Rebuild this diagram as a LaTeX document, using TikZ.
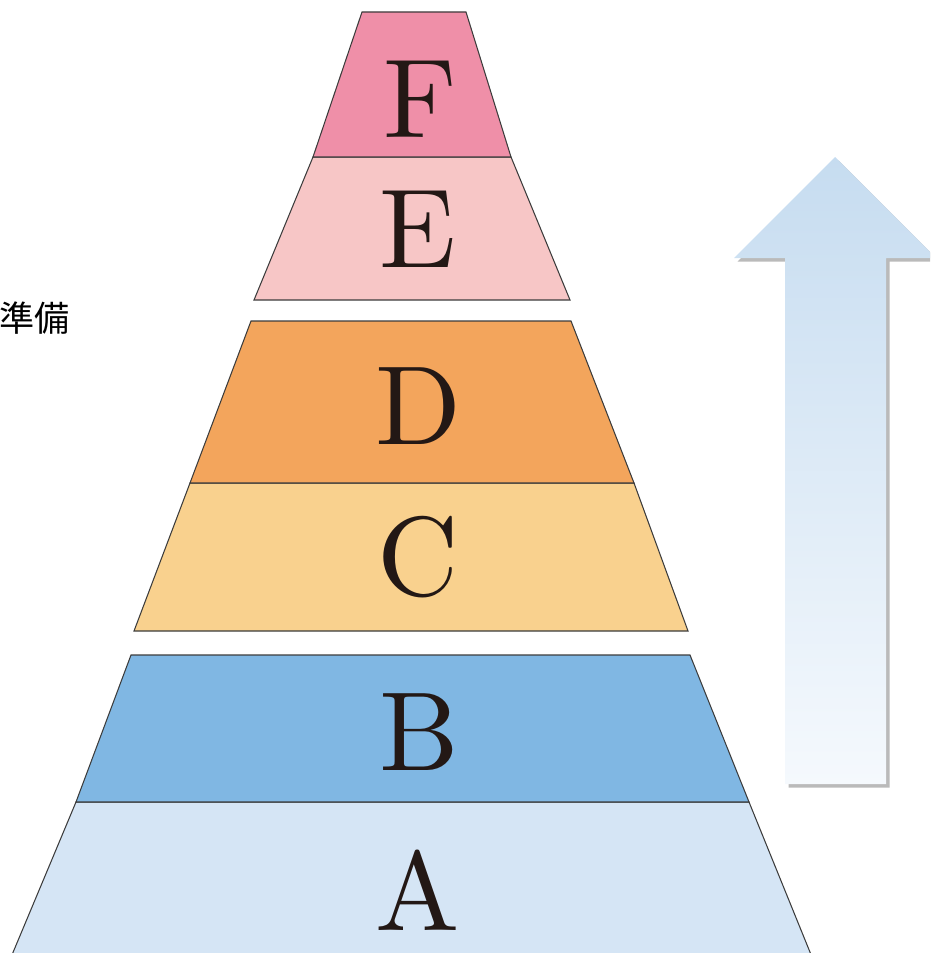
\documentclass[tikz,border=0pt]{standalone}
\usepackage{fontspec}
\usepackage{tikz}
\usetikzlibrary{shadows,positioning}
\newfontfamily\jpfont{Noto Sans CJK JP}
\newfontfamily\tierfont{lmroman10-regular}[Extension=.otf]
\definecolor{ink}{HTML}{231815}
\definecolor{edge}{HTML}{3C3C3C}
\definecolor{layerA}{HTML}{D5E5F5}
\definecolor{layerB}{HTML}{80B7E3}
\definecolor{layerC}{HTML}{F9D18E}
\definecolor{layerD}{HTML}{F3A55C}
\definecolor{layerE}{HTML}{F7C6C6}
\definecolor{layerF}{HTML}{EF8FA8}
\definecolor{risetop}{HTML}{C6DCF0}
\definecolor{risemid}{HTML}{B3D1EC}
\definecolor{risebot}{HTML}{F5F9FD}
\tikzset{
  layer/.style={draw=edge,line width=0.6pt,line join=miter},
  tier/.style={font=\tierfont\fontsize{64}{64}\selectfont,text=ink,inner sep=0pt,anchor=base},
  cue/.style={font=\jpfont\fontsize{20}{20}\selectfont,text=black,inner sep=0pt,anchor=east},
  risearrow/.style={top color=risetop,middle color=risemid,bottom color=risebot,
    draw=none,drop shadow={shadow xshift=0.07cm,shadow yshift=-0.07cm,opacity=0.45,fill=black!60}},
}

\begin{document}
\begin{tikzpicture}[x=0.02cm,y=-0.02cm]
  \useasboundingbox (0,0) rectangle (930,953);
  \clip (0,0) rectangle (930,953);

  % pyramid layers, bottom to top
  \draw[layer,fill=layerA] (76,802) -- (749,802) -- (814,962) -- (9,962) -- cycle;
  \draw[layer,fill=layerB] (131,655) -- (690,655) -- (749,802) -- (76,802) -- cycle;
  \draw[layer,fill=layerC] (190,483) -- (634,483) -- (688,631) -- (134,631) -- cycle;
  \draw[layer,fill=layerD] (251,321) -- (571,321) -- (634,483) -- (190,483) -- cycle;
  \draw[layer,fill=layerE] (313,157) -- (511,157) -- (570,300) -- (254,300) -- cycle;
  \draw[layer,fill=layerF] (362,12) -- (466,12) -- (511,157) -- (313,157) -- cycle;

  \node[tier] (lA) at (418,930) {A};
  \node[tier] (lB) at (419,770) {B};
  \node[tier] (lC) at (418,595) {C};
  \node[tier] (lD) at (418,444) {D};
  \node[tier] (lE) at (418,267) {E};
  \node[tier] (lF) at (420,137) {F};

  % rising arrow
  \path[risearrow] (785,784) -- (785,258) -- (734,258) -- (835,157)
    -- (936,258) -- (886,258) -- (886,784) -- cycle;

  \node[cue] (prep) at (70,318) {準備};
\end{tikzpicture}
\end{document}
